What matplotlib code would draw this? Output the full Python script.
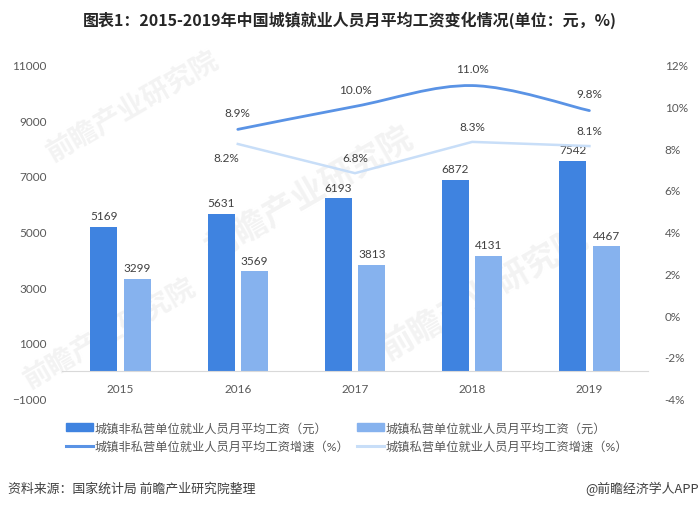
import numpy as np
import matplotlib
matplotlib.use('Agg')
import matplotlib.pyplot as plt
from matplotlib.path import Path
from matplotlib.patches import PathPatch, Patch
from matplotlib.lines import Line2D

plt.rcParams['font.family'] = ['Lato', 'Noto Sans CJK SC', 'DejaVu Sans']

# data
years = ['2015', '2016', '2017', '2018', '2019']
wage_nonprivate = [5169, 5631, 6193, 6872, 7542]
wage_private = [3299, 3569, 3813, 4131, 4467]
growth_years = ['2016', '2017', '2018', '2019']
growth_nonprivate = [8.9, 10.0, 11.0, 9.8]
growth_private = [8.2, 6.8, 8.3, 8.1]

labels = ['城镇非私营单位就业人员月平均工资（元）',
          '城镇私营单位就业人员月平均工资（元）',
          '城镇非私营单位就业人员月平均工资增速（%）',
          '城镇私营单位就业人员月平均工资增速（%）']

c_bar1 = '#3F83E0'
c_bar2 = '#86B2EE'
c_line1 = '#5A93E5'
c_line2 = '#C8DEF8'
c_text = '#404040'
c_tick = '#595959'

fig = plt.figure(figsize=(7, 5.1), dpi=100)
ax = fig.add_axes([62/700, 1-399.5/510, 586/700, 333.8/510])
ax2 = ax.twinx()

# faint watermark behind the bars
for wx, wy, fs in [(0.12, 0.88, 20), (0.42, 0.62, 24), (0.08, 0.2, 20), (0.72, 0.32, 24)]:
    ax.text(wx, wy, '前瞻产业研究院', transform=ax.transAxes, fontsize=fs,
            color='#F3F3F3', rotation=30, ha='center', va='center',
            fontweight='bold', zorder=0)

x = np.arange(len(years))
w = 0.23
off = 0.143
b1 = ax.bar(x - off, wage_nonprivate, w, color=c_bar1, zorder=2)
b2 = ax.bar(x + off, wage_private, w, color=c_bar2, zorder=2)
ax.bar_label(b1, padding=4, fontsize=8.5, color=c_text)
ax.bar_label(b2, padding=4, fontsize=8.5, color=c_text)

ax.set_xlim(-0.5, 4.5)
ax.set_ylim(-1000, 11000)
ax.set_yticks(np.arange(-1000, 11001, 2000))
ax.set_xticks(x)
ax.set_xticklabels(years)
ax.tick_params(axis='y', length=0, pad=11, labelsize=8.5, labelcolor=c_tick)
ax.tick_params(axis='x', length=0, pad=9, labelsize=8.5, labelcolor=c_tick)
for s in ['top', 'left', 'right']:
    ax.spines[s].set_visible(False)
ax.spines['bottom'].set_position(('data', 0))
ax.spines['bottom'].set_color('#D9D9D9')

ax2.set_ylim(-4, 12)
ax2.set_yticks(np.arange(-4, 13, 2))
ax2.set_yticklabels([f'{v}%' for v in range(-4, 13, 2)])
ax2.tick_params(axis='y', length=0, pad=12, labelsize=8.5, labelcolor=c_tick)
for s in ax2.spines.values():
    s.set_visible(False)

# growth lines (years 2016-2019)
gx = np.array([years.index(y) for y in growth_years], dtype=float)
g1 = np.array(growth_nonprivate)
g2 = np.array(growth_private)

# smoothed line like excel: bezier segments through the points
pts = np.column_stack([gx, g1])
verts = [pts[0]]
codes = [Path.MOVETO]
n = len(pts)
for i in range(n - 1):
    p0 = pts[max(i - 1, 0)]
    p1 = pts[i]
    p2 = pts[i + 1]
    p3 = pts[min(i + 2, n - 1)]
    verts += [p1 + (p2 - p0) / 6, p2 - (p3 - p1) / 6, p2]
    codes += [Path.CURVE4] * 3
ax2.add_patch(PathPatch(Path(verts, codes), facecolor='none', edgecolor=c_line1,
                        lw=2, capstyle='round', zorder=3))
ax2.plot(gx, g2, color=c_line2, lw=1.8, zorder=3)

for xi, v in zip(gx, g1):
    ax2.annotate(f'{v:.1f}%', (xi, v), xytext=(0, 12), textcoords='offset points',
                 ha='center', va='center', fontsize=8.5, color=c_text)
for i, (xi, v) in enumerate(zip(gx, g2)):
    dxy = (-8, -10) if i == 0 else (0, 11)
    ax2.annotate(f'{v:.1f}%', (xi, v), xytext=dxy, textcoords='offset points',
                 ha='center', va='center', fontsize=8.5, color=c_text)

# legend
handles = [Patch(color=c_bar1), Line2D([], [], color=c_line1, lw=2.2),
           Patch(color=c_bar2), Line2D([], [], color=c_line2, lw=2.2)]
leg_labels = [labels[0], labels[2], labels[1], labels[3]]
leg = fig.legend(handles, leg_labels, ncol=2, loc='center left',
                 bbox_to_anchor=(55/700, 1-438/510), frameon=False,
                 fontsize=8.8, handlelength=2.2, handleheight=0.6,
                 handletextpad=0.15, columnspacing=0.6, labelspacing=0.6)
for t in leg.get_texts():
    t.set_color(c_tick)

fig.text(0.5, 1-20/510, '图表1：2015-2019年中国城镇就业人员月平均工资变化情况(单位：元，%)',
         ha='center', va='center', fontsize=11.5, fontweight='bold', color='#262626',
         family=['Noto Sans CJK SC', 'DejaVu Sans'])
fig.text(8/700, 1-489/510, '资料来源：国家统计局 前瞻产业研究院整理', ha='left', va='center',
         fontsize=9.3, color=c_text, family=['Noto Sans CJK SC', 'DejaVu Sans'])
fig.text(699/700, 1-489/510, '@前瞻经济学人APP', ha='right', va='center',
         fontsize=9.3, color=c_text, family=['Noto Sans CJK SC', 'DejaVu Sans'])

fig.savefig('out.png', dpi=100)
